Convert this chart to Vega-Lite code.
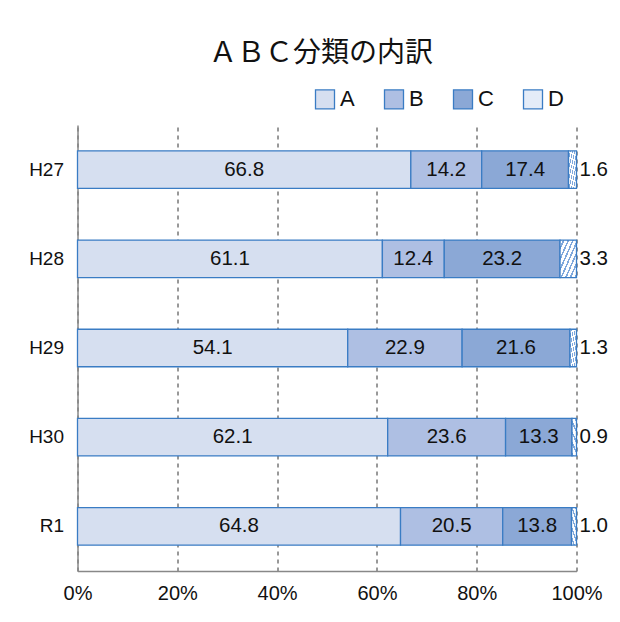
{
  "$schema": "https://vega.github.io/schema/vega-lite/v6.json",
  "autosize": "none",
  "width": 499,
  "height": 446,
  "padding": {"left": 77.5, "top": 125, "right": 43.5, "bottom": 51},
  "background": "white",
  "config": {
    "font": "Liberation Sans",
    "view": {"stroke": null}
  },
  "title": {
    "text": "ＡＢＣ分類の内訳",
    "font": "Noto Sans CJK JP",
    "fontSize": 28,
    "fontWeight": "normal",
    "color": "#111111",
    "anchor": "middle",
    "frame": "group",
    "offset": 20,
    "dx": -6
  },
  "data": {
    "values": [
      {"year": "H27", "cat": "A", "order": 1, "value": 66.8},
      {"year": "H27", "cat": "B", "order": 2, "value": 14.2},
      {"year": "H27", "cat": "C", "order": 3, "value": 17.4},
      {"year": "H27", "cat": "D", "order": 4, "value": 1.6},
      {"year": "H28", "cat": "A", "order": 1, "value": 61.1},
      {"year": "H28", "cat": "B", "order": 2, "value": 12.4},
      {"year": "H28", "cat": "C", "order": 3, "value": 23.2},
      {"year": "H28", "cat": "D", "order": 4, "value": 3.3},
      {"year": "H29", "cat": "A", "order": 1, "value": 54.1},
      {"year": "H29", "cat": "B", "order": 2, "value": 22.9},
      {"year": "H29", "cat": "C", "order": 3, "value": 21.6},
      {"year": "H29", "cat": "D", "order": 4, "value": 1.3},
      {"year": "H30", "cat": "A", "order": 1, "value": 62.1},
      {"year": "H30", "cat": "B", "order": 2, "value": 23.6},
      {"year": "H30", "cat": "C", "order": 3, "value": 13.3},
      {"year": "H30", "cat": "D", "order": 4, "value": 0.9},
      {"year": "R1", "cat": "A", "order": 1, "value": 64.8},
      {"year": "R1", "cat": "B", "order": 2, "value": 20.5},
      {"year": "R1", "cat": "C", "order": 3, "value": 13.8},
      {"year": "R1", "cat": "D", "order": 4, "value": 1.0}
    ]
  },
  "transform": [
    {"stack": "value", "groupby": ["year"], "sort": [{"field": "order", "order": "ascending"}], "offset": "normalize", "as": ["x0", "x1"]},
    {"calculate": "(datum.x0 + datum.x1) / 2", "as": "xmid"}
  ],
  "encoding": {
    "y": {
      "field": "year",
      "type": "nominal",
      "sort": ["H27", "H28", "H29", "H30", "R1"],
      "scale": {"paddingInner": 0.58, "paddingOuter": 0.29},
      "axis": {
        "title": null,
        "ticks": false,
        "domain": true,
        "domainColor": "#888888",
        "domainWidth": 1.5,
        "labelFontSize": 19,
        "labelColor": "#111111",
        "labelPadding": 14,
        "grid": false
      }
    }
  },
  "layer": [
    {
      "mark": {"type": "bar", "stroke": "#3a7cc4", "strokeWidth": 1.3},
      "encoding": {
        "x": {
          "field": "x0",
          "type": "quantitative",
          "scale": {"domain": [0, 1], "nice": false},
          "axis": {
            "title": null,
            "format": ".0%",
            "values": [0, 0.2, 0.4, 0.6, 0.8, 1],
            "ticks": false,
            "domainColor": "#888888",
            "domainWidth": 1.5,
            "labelFontSize": 20,
            "labelColor": "#111111",
            "labelPadding": 12,
            "labelFlush": false,
            "grid": true,
            "gridColor": "#333333",
            "gridDash": [4, 4],
            "gridWidth": 1
          }
        },
        "x2": {"field": "x1"},
        "fill": {
          "condition": {
            "test": "datum.cat == 'D'",
            "value": {
              "gradient": "linear", "x1": 0, "y1": 0, "x2": 1, "y2": 1,
              "stops": [
                {"offset": 0, "color": "#ffffff"},
                {"offset": 0.09, "color": "#ffffff"}, {"offset": 0.09, "color": "#7fa8dc"}, {"offset": 0.14, "color": "#7fa8dc"}, {"offset": 0.14, "color": "#ffffff"},
                {"offset": 0.23, "color": "#ffffff"}, {"offset": 0.23, "color": "#7fa8dc"}, {"offset": 0.28, "color": "#7fa8dc"}, {"offset": 0.28, "color": "#ffffff"},
                {"offset": 0.37, "color": "#ffffff"}, {"offset": 0.37, "color": "#7fa8dc"}, {"offset": 0.42, "color": "#7fa8dc"}, {"offset": 0.42, "color": "#ffffff"},
                {"offset": 0.51, "color": "#ffffff"}, {"offset": 0.51, "color": "#7fa8dc"}, {"offset": 0.56, "color": "#7fa8dc"}, {"offset": 0.56, "color": "#ffffff"},
                {"offset": 0.65, "color": "#ffffff"}, {"offset": 0.65, "color": "#7fa8dc"}, {"offset": 0.70, "color": "#7fa8dc"}, {"offset": 0.70, "color": "#ffffff"},
                {"offset": 0.79, "color": "#ffffff"}, {"offset": 0.79, "color": "#7fa8dc"}, {"offset": 0.84, "color": "#7fa8dc"}, {"offset": 0.84, "color": "#ffffff"},
                {"offset": 0.93, "color": "#ffffff"}, {"offset": 0.93, "color": "#7fa8dc"}, {"offset": 0.98, "color": "#7fa8dc"}, {"offset": 0.98, "color": "#ffffff"},
                {"offset": 1, "color": "#ffffff"}
              ]
            }
          },
          "field": "cat",
          "type": "nominal",
          "scale": {"domain": ["A", "B", "C", "D"], "range": ["#d6dff0", "#aebfe3", "#8ba8d6", "#e4ecf8"]},
          "legend": {
            "title": null,
            "orient": "none",
            "direction": "horizontal",
            "legendX": 236.5,
            "legendY": -37,
            "symbolType": "square",
            "symbolSize": 361,
            "symbolStrokeColor": "#3a7cc4",
            "symbolStrokeWidth": 1.3,
            "symbolOpacity": 1,
            "labelFontSize": 22,
            "labelColor": "#111111",
            "labelOffset": 4,
            "columnPadding": 26
          }
        }
      }
    },
    {
      "transform": [{"filter": "datum.cat != 'D'"}],
      "mark": {"type": "text", "fontSize": 20.5, "color": "#111111", "align": "center", "baseline": "middle"},
      "encoding": {
        "x": {"field": "xmid", "type": "quantitative"},
        "text": {"field": "value", "type": "quantitative", "format": ".1f"}
      }
    },
    {
      "transform": [{"filter": "datum.cat == 'D'"}],
      "mark": {"type": "text", "fontSize": 20.5, "color": "#111111", "align": "left", "baseline": "middle", "dx": 3},
      "encoding": {
        "x": {"field": "x1", "type": "quantitative"},
        "text": {"field": "value", "type": "quantitative", "format": ".1f"}
      }
    }
  ]
}
